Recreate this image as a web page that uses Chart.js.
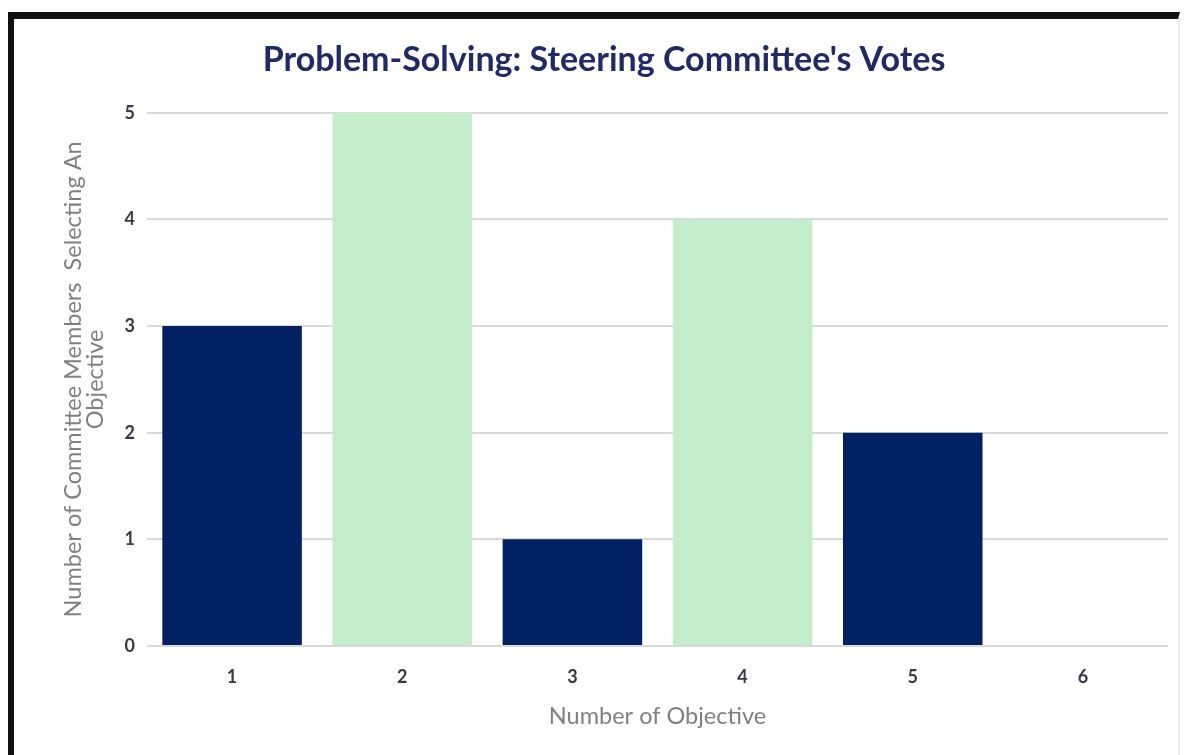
<!DOCTYPE html>
<html>
<head>
<meta charset="utf-8">
<title>Steering Committee Votes</title>
<script src="https://cdn.jsdelivr.net/npm/chart.js@4/dist/chart.umd.min.js"></script>
<style>
  html, body { margin: 0; padding: 0; background: #fff; }
  #marco {
    position: absolute;
    left: 8px;
    top: 12px;
    width: 1164px;
    height: 743px;
    border-top: 7px solid #111;
    border-left: 6px solid #111;
    border-right: 2px solid #ececec;
  }
  #marco canvas { display: block; }
</style>
</head>
<body>
<div id="marco">
  <canvas id="myChart" width="1164" height="736"></canvas>
</div>
<script>
// objetivos y votos del comite
var objetivos = ['1', '2', '3', '4', '5', '6'];
var votos = [3, 5, 1, 4, 2, 0];
var ticksY = [0, 1, 2, 3, 4, 5];

var azul = '#022163';
var verde = '#c4edcb';
var colores = [azul, verde, azul, verde, azul, azul];

var fuente = "Lato, 'Open Sans', sans-serif";

var canvas = document.getElementById('myChart').getContext('2d');
var chart = new Chart(canvas, {
    type: 'bar',
    data: {
        labels: objetivos,
        datasets: [{
            label: 'Votos',
            data: votos,
            backgroundColor: colores,
            borderWidth: 0,
            barPercentage: 0.82,
            categoryPercentage: 1
        }]
    },
    options: {
        responsive: false,
        animation: false,
        // el padding izquierdo centra el titulo un poco a la derecha
        layout: { padding: { left: 26, right: 10, top: 0, bottom: 0 } },
        plugins: {
            legend: { display: false },
            tooltip: { enabled: false },
            title: {
                display: true,
                text: "Problem-Solving: Steering Committee's Votes",
                color: '#1f2a66',
                font: { family: fuente, size: 34, weight: 'bold' },
                padding: { top: 21, bottom: 32 }
            }
        },
        scales: {
            x: {
                grid: { display: false, drawTicks: false },
                border: { display: false },
                ticks: {
                    color: '#383846',
                    font: { family: fuente, size: 18, weight: 'bold' },
                    padding: 20
                },
                title: {
                    display: true,
                    text: 'Number of Objective',
                    color: '#808080',
                    font: { family: fuente, size: 23.5 },
                    padding: { top: 0, bottom: 24 }
                },
                afterFit: function(scale) { scale.height = 109; }
            },
            y: {
                min: 0,
                max: 5,
                afterBuildTicks: function(scale) {
                    scale.ticks = ticksY.map(function(v) { return { value: v }; });
                },
                grid: { color: '#d9d9d9', lineWidth: 2, drawTicks: false },
                border: { display: false },
                ticks: {
                    color: '#383846',
                    font: { family: fuente, size: 18, weight: 'bold' },
                    padding: 12
                },
                title: {
                    display: true,
                    text: ['Number of Committee Members  Selecting An', 'Objective'],
                    color: '#808080',
                    font: { family: fuente, size: 23.5, lineHeight: 0.92 },
                    padding: { top: 23, bottom: 0 }
                },
                afterFit: function(scale) { scale.width = 107; }
            }
        }
    }
});
</script>
</body>
</html>
